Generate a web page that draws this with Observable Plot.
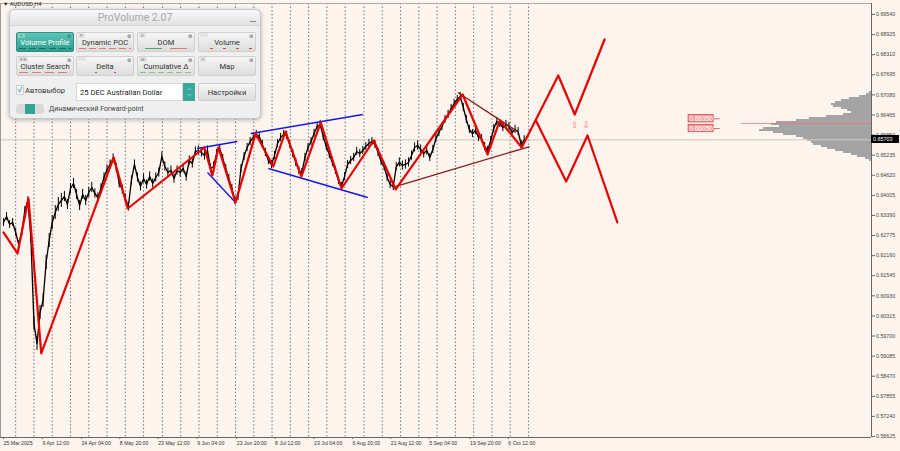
<!DOCTYPE html>
<html><head><meta charset="utf-8">
<script src="https://cdn.jsdelivr.net/npm/d3@7"></script>
<script src="https://cdn.jsdelivr.net/npm/@observablehq/plot@0.6"></script>
<style>
body{margin:0;background:#fdf4ed;}
#wrap{position:relative;width:900px;height:451px;overflow:hidden;background:#fdf4ed;font-family:"Liberation Sans",Arial,sans-serif;}
#wrap svg{position:absolute;left:0;top:0;}
.sym{position:absolute;left:3px;top:1px;font-size:5.5px;color:#222;}
.pv{position:absolute;left:9px;top:9px;width:250px;height:108px;background:#efefef;border:1px solid #c6c6c6;border-radius:5px;box-shadow:0 1px 4px rgba(0,0,0,.28);font-family:Roboto,"Noto Sans",sans-serif;}
.pv div{position:absolute;box-sizing:border-box;}
.pv-title{left:0;top:0;width:250px;height:16px;border-radius:5px 5px 0 0;background:linear-gradient(#f8f8f8,#e2e2e2);border-bottom:1px solid #d4d4d4;text-align:center;font-size:10.5px;line-height:16px;color:#a9a9a9;}
.pv-min{left:240px;top:11px;width:6px;height:1px;background:#8a8a8a;}
.btn{width:58px;height:20px;border-radius:2px;background:linear-gradient(#f7f7f7,#dcdcdc);border:1px solid #cfcfcf;color:#333;text-align:center;font-size:7.6px;}
.btn.on{background:linear-gradient(#5cc4b6,#2e9e90);border-color:#2a9385;color:#fff;}
.btn .lbl{left:0;right:0;top:5px;}
.btn .key{left:1px;top:0px;font-size:4px;color:#777;background:#e4e4e4;padding:0 2px;line-height:5px;}
.btn.on .key{background:#7fd0c5;color:#2a6;}
.btn .gear{right:2px;top:0px;font-size:5px;color:#555;line-height:6px;}
.btn .strip{left:2px;right:2px;bottom:2px;height:1px;}
.chk{left:6px;top:75px;width:8px;height:10px;background:#fff;border:1px solid #cfcfcf;color:#2fa596;font-size:9px;line-height:8px;text-align:center;}
.txt{font-size:7.6px;color:#333;}
.dd{left:66px;top:73px;width:107px;height:18px;background:#fff;border:1px solid #d8d8d8;font-size:7.6px;color:#222;padding-left:3px;line-height:17px;}
.spin{left:173px;top:73px;width:12px;height:18px;background:#3aa99b;color:#fff;font-size:5px;text-align:center;line-height:7px;padding-top:2px;}
.tog{left:6px;top:94px;width:28px;height:10px;background:#d9d9d9;border-radius:3px;}
.tog i{position:absolute;left:9px;top:0;width:10px;height:10px;background:#33a597;}
.curlab{position:absolute;left:871px;width:28px;height:8px;background:#000;color:#fff;font-size:5.4px;line-height:8px;padding-left:2px;box-sizing:border-box;}
</style></head><body><div id="wrap"></div><script>
// ---------------- data ----------------
// H4 bar index 0 = 25 Mar 2025 00:00; close sampled every 5 bars
const closeStartBar = 0, closeStepBars = 5;
const closePrices = [0.63175,0.63358,0.63114,0.63175,0.62869,0.62502,0.62869,0.63542,0.63848,0.62685,
0.60084,0.59472,0.60421,0.60788,0.61951,0.62624,0.63175,0.63481,0.63726,0.63848,
0.63970,0.63726,0.64215,0.64368,0.64032,0.63695,0.64032,0.63848,0.64093,0.64246,
0.64062,0.63940,0.64215,0.64552,0.64797,0.64950,0.65133,0.64858,0.64368,0.64185,
0.63909,0.63664,0.64460,0.64950,0.64552,0.64276,0.64521,0.64338,0.64582,0.64368,
0.64552,0.64705,0.65194,0.64888,0.64705,0.64766,0.64521,0.64766,0.64705,0.64827,
0.64582,0.65072,0.64980,0.65347,0.65378,0.65317,0.65225,0.65378,0.64827,0.64888,
0.65286,0.65439,0.65133,0.64827,0.64521,0.64215,0.63848,0.63970,0.64827,0.65194,
0.65470,0.65653,0.65776,0.65868,0.65806,0.65562,0.65317,0.65072,0.64950,0.65225,
0.65592,0.65776,0.65868,0.65837,0.65562,0.65286,0.65011,0.64766,0.64705,0.65164,
0.65470,0.65653,0.65898,0.66112,0.66174,0.65806,0.65500,0.65256,0.65011,0.64766,
0.64460,0.64276,0.64582,0.64950,0.65072,0.65164,0.65347,0.65286,0.65378,0.65500,
0.65592,0.65653,0.65562,0.65317,0.65041,0.64888,0.64552,0.64338,0.64276,0.64888,
0.65011,0.64919,0.64950,0.65011,0.65225,0.65470,0.65531,0.65409,0.65286,0.65378,
0.65164,0.65409,0.65745,0.65929,0.66112,0.66327,0.66480,0.66663,0.66816,0.66939,
0.67030,0.66694,0.66327,0.66021,0.65898,0.65990,0.65776,0.65745,0.65500,0.65378,
0.65684,0.66051,0.66265,0.66204,0.66082,0.66174,0.66112,0.65929,0.66021,0.65959,
0.65562,0.65703];
// typical bar range (high-low) of each block of 10 samples, read from the scribble thickness
const blockRanges = [0.0024,0.0043,0.0031,0.0028,0.0028,0.0028,0.0028,0.0025,0.0025,0.0025,0.0025,0.0025,0.0025,0.0028,0.0025,0.0025,0.0025,0.0025];
const currentPrice = 0.65703;

// red zigzag (history + upward projection)
const zigzagBars   = [0,23,41,62,181,204,330,343,353,381,414,443,463,489,521,555,608,644,754,795,815,851,911,938,987];
const zigzagPrices = [0.62869,0.62226,0.63909,0.59166,0.65164,0.63603,0.65470,0.64613,0.65470,0.63787,0.65898,0.64888,0.65959,0.64582,0.66235,0.64215,0.65684,0.64185,0.67092,0.65256,0.66296,0.65470,0.67673,0.66480,0.68775];
// downward projection
const projDownBars   = [875,924,959,1008];
const projDownPrices = [0.66265,0.64429,0.65837,0.63175];

// blue trend lines
const blueX1 = [318,335,406,435], blueY1 = [0.65439,0.64705,0.65898,0.64827];
const blueX2 = [384,381,590,598], blueY2 = [0.65653,0.63787,0.66480,0.63940];
// dark red triangle lines
const brownX1 = [746,639], brownY1 = [0.67153,0.64246];
const brownX2 = [844,864], brownY2 = [0.65959,0.65500];

// level labels and arrows
const levelPrices = [0.66350,0.66050];
const levelBarFrom = 1125, levelBarTo = 1166, levelTickTo = 1176;
const arrowBars = [938,957], arrowSymbols = ["⇧","⇩"], arrowPrice = 0.66143;

// volume profile
const profilePrices = [0.67153,0.67092,0.67030,0.66969,0.66908,0.66847,0.66786,0.66724,0.66663,0.66602,0.66541,0.66480,0.66418,0.66357,0.66296,0.66235,0.66174,0.66112,0.66051,0.65990,0.65929,0.65868,0.65806,0.65745,0.65684,0.65623,0.65562,0.65500,0.65439,0.65378,0.65317,0.65256,0.65194,0.65133,0.65072];
const profileVolumes = [2,5,12,22,30,36,40,38,30,24,20,28,45,62,75,95,100,92,108,112,98,88,75,68,64,60,58,50,44,36,28,20,14,6,2];
const profileHalfStep = 0.000306;
const pocPrice = 0.66204, pocVolume = 130;

// axes
const yTickValues = [0.69540,0.68925,0.68310,0.67695,0.67080,0.66465,0.65850,0.65235,0.64620,0.64005,0.63390,0.62775,0.62160,0.61545,0.60930,0.60315,0.59700,0.59085,0.58470,0.57855,0.57240,0.56625];
const xLabelBars = [0,64,128,191,254,318,383,446,510,573,636,699,766,829];
const xLabelTexts = ["25 Mar 2025","9 Apr 12:00","24 Apr 04:00","8 May 20:00","23 May 12:00","9 Jun 04:00","23 Jun 20:00","8 Jul 12:00","23 Jul 04:00","6 Aug 20:00","21 Aug 12:00","5 Sep 04:00","19 Sep 20:00","6 Oct 12:00"];
const weekSeparatorBars = [20,50,80,110,140,170,200,230,261,291,321,351,381,411,441,471,501,531,561,592,622,652,682,712,742,772,802,832,862];

const xDomain = [-4.93,1425.3], yDomain = [0.56594,0.69877];

// ---------------- tables ----------------
const close = closePrices.map((p,i)=>({bar: closeStartBar + i*closeStepBars, price: p, range: blockRanges[Math.floor(i/10)]}));
const zz = zigzagBars.map((b,i)=>({bar:b, price:zigzagPrices[i]}));
const zd = projDownBars.map((b,i)=>({bar:b, price:projDownPrices[i]}));
const blue = blueX1.map((x,i)=>({x1:x,y1:blueY1[i],x2:blueX2[i],y2:blueY2[i]}));
const brown = brownX1.map((x,i)=>({x1:x,y1:brownY1[i],x2:brownX2[i],y2:brownY2[i]}));
const arrows = arrowBars.map((b,i)=>({bar:b, s:arrowSymbols[i]}));
const profile = profilePrices.map((p,i)=>({price:p, vol:profileVolumes[i]}));
const labelOf = new Map(xLabelBars.map((b,i)=>[b,xLabelTexts[i]]));

const wrap = document.getElementById("wrap");
const common = {width:900,height:451,marginLeft:0,marginRight:29,marginTop:3,marginBottom:14,
  style:{background:"transparent",fontFamily:"Liberation Sans, Arial, sans-serif",overflow:"visible"}};

// volume profile (anchored on the right axis)
const prof = Plot.plot({...common,
  x:{domain:[0,871],reverse:true,axis:null},
  y:{domain:yDomain,axis:null},
  marks:[
    Plot.rect(profile,{x1:0,x2:"vol",y1:d=>d.price-profileHalfStep,y2:d=>d.price+profileHalfStep,fill:"#a4a4a4"}),
    Plot.ruleY([pocPrice],{x1:0,x2:pocVolume,stroke:"#e07b7b",strokeWidth:0.8})
  ]});
wrap.appendChild(prof);

const chart = Plot.plot({...common,
  x:{domain:xDomain,axis:null},
  y:{domain:yDomain,axis:null},
  marks:[
    Plot.ruleX(weekSeparatorBars,{stroke:"#3c3c3c",strokeWidth:0.75,strokeDasharray:"1.4,2.2"}),
    Plot.ruleY([currentPrice],{stroke:"#cfc8c2",strokeWidth:1}),
    Plot.ruleX(close,{x:"bar",y1:d=>d.price-d.range/2,y2:d=>d.price+d.range/2,stroke:"#000",strokeWidth:1}),
    Plot.line(close,{x:"bar",y:"price",stroke:"#000",strokeWidth:1.3,curve:"linear"}),
    Plot.link(blue,{x1:"x1",y1:"y1",x2:"x2",y2:"y2",stroke:"#1616e6",strokeWidth:1.4}),
    Plot.link(brown,{x1:"x1",y1:"y1",x2:"x2",y2:"y2",stroke:"#8a1c1c",strokeWidth:1.3}),
    Plot.line(zz,{x:"bar",y:"price",stroke:"#e80000",strokeWidth:2.2}),
    Plot.line(zd,{x:"bar",y:"price",stroke:"#e80000",strokeWidth:2.2}),
    Plot.text(arrows,{x:"bar",y:arrowPrice,text:"s",fill:"#ec7a7a",fontSize:9,fontFamily:"DejaVu Sans"}),
    Plot.link(levelPrices,{x1:levelBarTo,x2:levelTickTo,y1:d=>d,y2:d=>d,stroke:"#d84848",strokeWidth:0.8}),
    Plot.rect(levelPrices,{x1:levelBarFrom,x2:levelBarTo,y1:d=>d-0.00112,y2:d=>d+0.00112,fill:"#f0a0a0",stroke:"#d84848",strokeWidth:0.8}),
    Plot.text(levelPrices,{x:(levelBarFrom+levelBarTo)/2,y:d=>d,text:d=>d.toFixed(5),fill:"#fff",fontSize:6.6,dy:0.3}),
    Plot.ruleX([xDomain[0]],{stroke:"#999",strokeWidth:1}),
    Plot.ruleY([yDomain[1]],{stroke:"#aaa",strokeWidth:1}),
    Plot.ruleX([xDomain[1]],{stroke:"#666",strokeWidth:1}),
    Plot.ruleY([yDomain[0]],{stroke:"#666",strokeWidth:1}),
    Plot.axisY({anchor:"right",ticks:yTickValues,tickFormat:d=>d.toFixed(5),tickSize:3,tickPadding:1.5,fontSize:5.3,fill:"#444",stroke:"#666"}),
    Plot.axisX({anchor:"bottom",ticks:xLabelBars,tickFormat:d=>labelOf.get(d),tickSize:2,tickPadding:2,textAnchor:"start",fontSize:5.2,fill:"#333",stroke:"#666"})
  ]});
wrap.appendChild(chart);

// symbol caption
const sym = document.createElement("div"); sym.className="sym"; sym.textContent="▼ AUDUSD,H4"; wrap.appendChild(sym);

// current price tag positioned with the y scale
const cl = document.createElement("div"); cl.className="curlab";
cl.style.top = (chart.scale("y").apply(currentPrice)-4)+"px";
cl.textContent = currentPrice.toFixed(5); wrap.appendChild(cl);

// ProVolume panel
const buttons = [
 {t:"Volume Profile",k:"V",on:true,s:"repeating-linear-gradient(90deg,#1d6e62 0 7px,transparent 7px 10px)"},
 {t:"Dynamic POC",k:"P",s:"repeating-linear-gradient(90deg,#e07a7a 0 7px,transparent 7px 10px)"},
 {t:"DOM",k:"D",s:"linear-gradient(90deg,transparent 0 10%,#5aa55a 10% 42%,transparent 42% 58%,#e07a7a 58% 90%,transparent 90%)"},
 {t:"Volume",k:"",s:"radial-gradient(circle,#d44 0 1px,transparent 1.2px) 4px 0/13px 1px repeat-x"},
 {t:"Cluster Search",k:"R N",s:"repeating-linear-gradient(90deg,#e07a7a 0 9px,transparent 9px 13px)"},
 {t:"Delta",k:"",s:"linear-gradient(90deg,transparent 0 30%,#3a9a4a 30% 34%,transparent 34% 68%,#d44 68% 72%,transparent 72%)"},
 {t:"Cumulative Δ",k:"M",s:"repeating-linear-gradient(90deg,#8cc08c 0 6px,transparent 6px 9px)"},
 {t:"Map",k:"F",s:"none"}
];
let html = '<div class="pv-title">ProVolume 2.07</div><div class="pv-min"></div>';
buttons.forEach((b,i)=>{
  const col=i%4,row=Math.floor(i/4);
  const left=[6,66,127,188][col], top=[22,46][row];
  html += `<div class="btn${b.on?' on':''}" style="left:${left}px;top:${top}px">`+
    (b.k?`<div class="key">${b.k}</div>`:'<div class="key" style="background:#e4e4e4;width:8px;height:4px"></div>')+
    `<div class="gear">⚙</div><div class="lbl">${b.t}</div><div class="strip" style="background:${b.s}"></div></div>`;
});
html += '<div class="chk">√</div><div class="txt" style="left:15px;top:76px">Автовыбор</div>';
html += '<div class="dd">25 DEC Australian Dollar</div><div class="spin">︿<br>﹀</div>';
html += '<div class="btn" style="left:188px;top:73px;height:18px"><div class="lbl" style="top:4px">Настройки</div></div>';
html += '<div class="tog"><i></i></div><div class="txt" style="left:39px;top:95px;font-size:7px;color:#444">Динамический Forward-point</div>';
const pv = document.createElement("div"); pv.className="pv"; pv.innerHTML=html; wrap.appendChild(pv);
</script></body></html>
